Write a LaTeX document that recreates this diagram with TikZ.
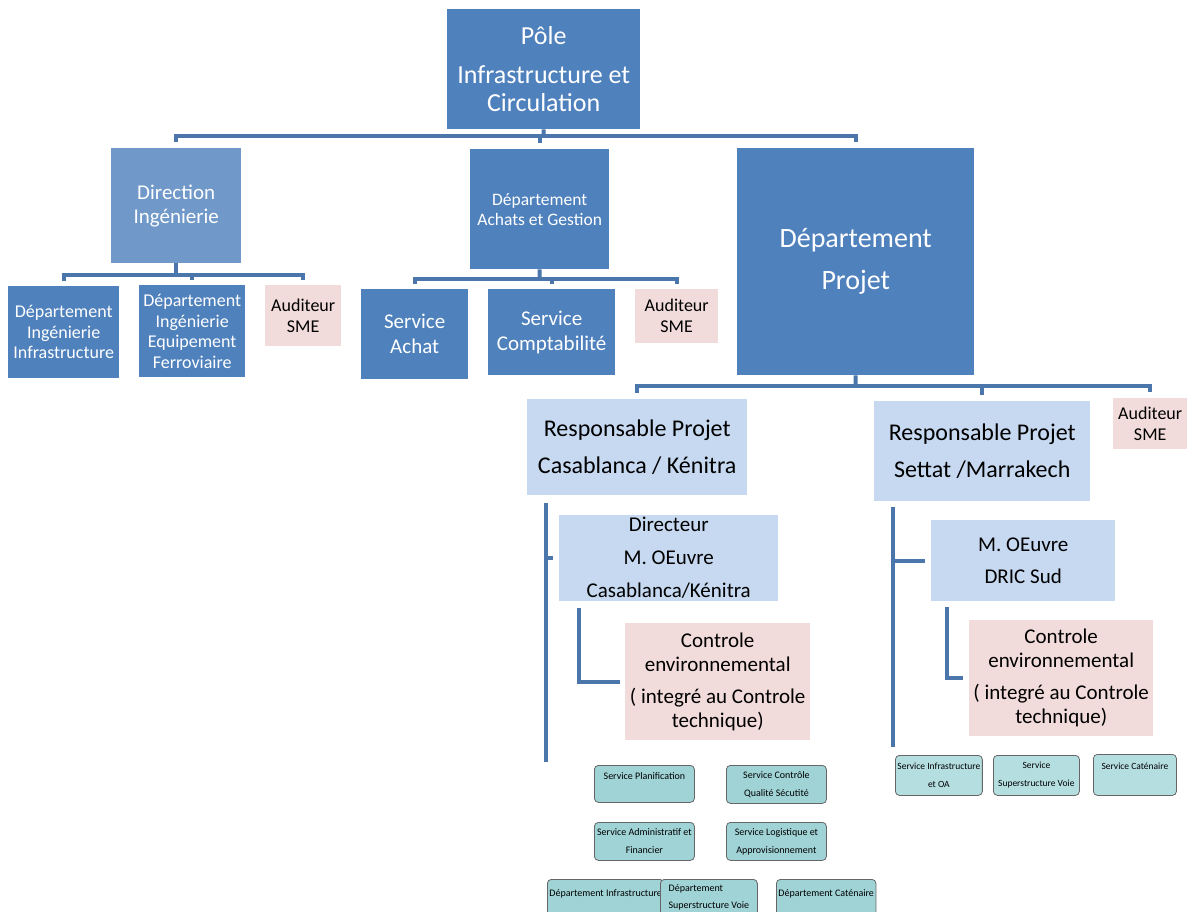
\documentclass[tikz,border=0pt]{standalone}
\usepackage{fontspec}
\setmainfont{Carlito}
\usepackage{tikz}

\definecolor{pblue}{HTML}{4F81BD}
\definecolor{mblue}{HTML}{7099C9}
\definecolor{lblue}{HTML}{C6D9F1}
\definecolor{pink}{HTML}{F2DCDB}
\definecolor{linkc}{HTML}{4A76AC}
\definecolor{tealA}{HTML}{A0D3D6}
\definecolor{tealB}{HTML}{B5DEE1}
\newcommand{\fs}[2]{\fontsize{#1}{#2}\selectfont}

\begin{document}
\begin{tikzpicture}
	 [x=1pt,y=-1pt,
	  every node/.style={anchor=north west,inner sep=2pt,align=center},
	  bx/.style 2 args={minimum width=#1,minimum height=#2},
	  dark/.style={fill=pblue,text=white},
	  mid/.style={fill=mblue,text=white},
	  light/.style={fill=lblue,text=black},
	  audit/.style={fill=pink,text=black},
	  svc/.style={fill=tealA,draw=black!60,line width=0.8,rounded corners=4,font=\fs{10}{18}},
	  oneline/.style={text depth=15pt},
	  link/.style={draw=linkc,line width=4}]

	\clip (0,0) rectangle (1188,912);

	  % top level
	  \node[dark,bx={193}{120},font=\fs{26}{28}] (pole) at (447,9) {Pôle\\[11pt]Infrastructure et\\Circulation};

	  \node[mid,bx={130}{115},font=\fs{21}{24}] (dir) at (111,148) {Direction\\Ingénierie};
	  \node[dark,bx={139}{120},font=\fs{17.5}{20}] (ach) at (470,149) {Département\\Achats et Gestion};
	  \node[dark,bx={237}{227},font=\fs{28}{42}] (proj) at (737,148) {Département\\Projet};

	  % under Direction Ingenierie
	  \node[dark,bx={111}{92},font=\fs{18}{20.5}] (dii) at (8,286) {Département\\Ingénierie\\Infrastructure};
	  \node[dark,bx={106}{92},font=\fs{18}{20.5}] (die) at (139,285) {Département\\Ingénierie\\Equipement\\Ferroviaire};
	  \node[audit,bx={76}{61},font=\fs{18}{21}] (aud1) at (265,285) {Auditeur\\SME};

	  % under Achats et Gestion
	  \node[dark,bx={107}{90},font=\fs{21}{25}] (sach) at (361,289) {Service\\Achat};
	  \node[dark,bx={127}{86},font=\fs{21}{25}] (scpt) at (488,289) {Service\\Comptabilité};
	  \node[audit,bx={83}{54},font=\fs{18}{21}] (aud2) at (635,289) {Auditeur\\SME};

	  % under Departement Projet
	  \node[light,bx={220}{96},font=\fs{24}{37}] (rcas) at (527,399) {Responsable Projet\\Casablanca / Kénitra};
	  \node[light,bx={216}{100},font=\fs{24}{37}] (rset) at (874,401) {Responsable Projet\\Settat /Marrakech};
	  \node[audit,bx={74}{51},font=\fs{18}{21}] (aud3) at (1113,398) {Auditeur\\SME};

	  \node[light,bx={219}{86},font=\fs{21}{33}] (mcas) at (559,515) {Directeur\\M. OEuvre\\Casablanca/Kénitra};
	  \node[audit,bx={185}{117},font=\fs{21}{24}] (ccas) at (625,623) {Controle\\environnemental\\[8pt]( integré au Controle\\technique)};
	  \node[light,bx={184}{81},font=\fs{21}{32}] (mset) at (931,520) {M. OEuvre\\DRIC Sud};
	  \node[audit,bx={184}{116},font=\fs{21}{24}] (cset) at (969,620) {Controle\\environnemental\\[8pt]( integré au Controle\\technique)};

	  % services
	  \node[svc,oneline,bx={100}{37}] (splan) at (594,765) {Service Planification};
	  \node[svc,bx={100}{38}] (sctrl) at (726,765) {Service Contrôle\\Qualité Sécutité};
	  \node[svc,bx={100}{38}] (sadm) at (594,822) {Service Administratif et\\Financier};
	  \node[svc,bx={100}{38}] (slog) at (726,822) {Service Logistique et\\Approvisionnement};
	  \node[svc,oneline,bx={97}{42}] (dinf) at (547,879) {Département Infrastructure};
	  \node[svc,bx={97}{36},align=left,font=\fs{10}{16.5}] (dsup) at (660,879) {Département\\Superstructure Voie};
	  \node[svc,oneline,bx={97}{42}] (dcat) at (776,879) {Département Caténaire};

	  \node[svc,fill=tealB,bx={84}{40},font=\fs{9.5}{18}] (sinf) at (895,755) {Service Infrastructure\\et OA};
	  \node[svc,fill=tealB,bx={86}{40},font=\fs{9.5}{18}] (ssup) at (993,755) {Service\\Superstructure Voie};
	  \node[svc,oneline,fill=tealB,bx={83}{41},font=\fs{9.5}{18},text depth=17pt] (scat) at (1093,754) {Service Caténaire};

	  % bars
	  \coordinate (b0) at (543.5,136);
	  \coordinate (b1) at (178,275);
	  \coordinate (b2) at (539.5,279);
	  \coordinate (b3) at (855.5,386);

	\draw[link] (pole.south) -- (b0);
	\draw[link] ([yshift=6pt]dir.north) |- (b0) -| ([yshift=6pt]proj.north);
	\draw[link] ([yshift=6pt]ach.north) -- (ach.north |- b0);

	\draw[link] (dir.south) -- (dir.south |- b1);
	\draw[link] ([yshift=5pt]dii.north) |- (b1) -| ([yshift=5pt]aud1.north);
	\draw[link] ([yshift=5pt]die.north) -- (die.north |- b1);

	\draw[link] (ach.south) -- (b2);
	\draw[link] ([yshift=5pt]sach.north) |- (b2) -| ([yshift=5pt]aud2.north);
	\draw[link] ([yshift=5pt]scpt.north) -- (scpt.north |- b2);

	\draw[link] (proj.south) -- (b3);
	\draw[link] ([yshift=6pt]rcas.north) |- (b3) -| ([yshift=6pt]aud3.north);
	\draw[link] ([yshift=6pt]rset.north) -- (rset.north |- b3);

	  % spines
	  \coordinate (e1) at (546,762);
	  \coordinate (e2) at (893,747);

	\draw[link,shorten <=8pt] (rcas.south -| e1) -- (e1);
	\draw[link] (e1 |- mcas.west) -- ([xshift=-6pt]mcas.west);
	\draw[link,shorten <=7pt] ([xshift=20pt]mcas.south west) |- ([xshift=-5pt]ccas.west);

	\draw[link,shorten <=6pt] (rset.south -| e2) -- (e2);
	\draw[link] (e2 |- mset.west) -- ([xshift=-6pt]mset.west);
	\draw[link,shorten <=6pt] ([xshift=16pt]mset.south west) |- ([xshift=-6pt]cset.west);

\end{tikzpicture}
\end{document}
